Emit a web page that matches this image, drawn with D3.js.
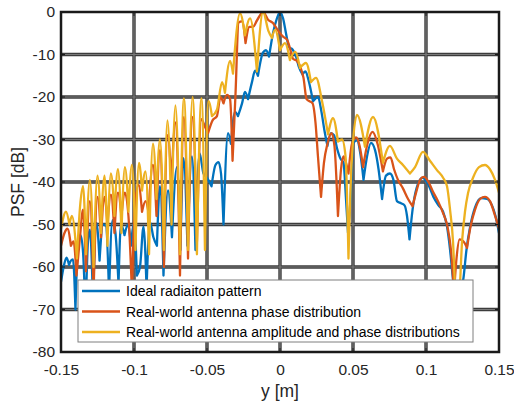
<!DOCTYPE html>
<html>
<head>
<meta charset="utf-8">
<script src="https://cdn.jsdelivr.net/npm/d3@7"></script>
<style>
html, body { margin: 0; padding: 0; background: #fff; }
svg { display: block; font-family: "Liberation Sans", Arial, Helvetica, sans-serif; }
</style>
</head>
<body>
<svg id="chart" width="514" height="407"></svg>
<script>
// PSF cuts: [y (m), level (dB)]
const idealPattern = [
  [-0.1500,-63.5],[-0.1479,-59.5],[-0.1462,-57.8],[-0.1445,-59.5],[-0.1432,-58.5],[-0.1418,-58.2],
  [-0.1401,-70],[-0.1384,-55],[-0.1366,-52.5],[-0.1349,-56.5],[-0.1332,-72],[-0.1315,-54],
  [-0.1302,-51.2],[-0.1281,-68],[-0.1257,-49.6],[-0.1236,-58.5],[-0.1212,-50],[-0.1192,-50.3],
  [-0.1171,-66],[-0.1147,-49],[-0.1127,-52],[-0.1106,-64],[-0.1089,-50],[-0.1065,-52.5],
  [-0.1041,-50],[-0.1021,-55],[-0.1000,-49.8],[-0.0980,-62],[-0.0959,-60],[-0.0935,-50.5],
  [-0.0914,-65],[-0.0890,-49.5],[-0.0867,-53],[-0.0843,-55],[-0.0822,-41],[-0.0798,-62],
  [-0.0767,-42],[-0.0740,-53],[-0.0706,-36.5],[-0.0682,-56],[-0.0661,-34.4],[-0.0634,-55],
  [-0.0603,-34],[-0.0579,-56],[-0.0551,-33.2],[-0.0524,-38],[-0.0500,-39],[-0.0469,-41],
  [-0.0442,-36],[-0.0421,-35.3],[-0.0404,-38],[-0.0387,-50],[-0.0356,-28.5],[-0.0336,-31],
  [-0.0308,-23.5],[-0.0288,-24.5],[-0.0260,-21.5],[-0.0240,-18.8],[-0.0219,-20.5],[-0.0192,-16.5],
  [-0.0171,-13.8],[-0.0151,-15],[-0.0116,-9.5],[-0.0096,-9],[-0.0075,-10.5],[-0.0048,-5],
  [-0.0021,-1.5],[0.0000,0],[0.0021,-1.5],[0.0041,-5],[0.0062,-8.3],[0.0086,-8.8],
  [0.0110,-10.5],[0.0130,-13],[0.0154,-14.7],[0.0175,-14],[0.0195,-16],[0.0226,-21],
  [0.0260,-20],[0.0284,-23.5],[0.0305,-28],[0.0325,-31.5],[0.0349,-28.5],[0.0370,-29],
  [0.0390,-32],[0.0414,-34.5],[0.0435,-35.5],[0.0452,-44],[0.0466,-52],[0.0483,-44],
  [0.0503,-30.8],[0.0527,-30.2],[0.0551,-33.5],[0.0572,-39.5],[0.0596,-34],[0.0623,-30.8],
  [0.0651,-32.5],[0.0675,-37],[0.0699,-44],[0.0726,-38.5],[0.0753,-38],[0.0777,-39.5],
  [0.0801,-44.5],[0.0829,-45],[0.0853,-45.5],[0.0870,-48],[0.0887,-53.5],[0.0908,-46.5],
  [0.0935,-41.5],[0.0976,-39],[0.1014,-40.5],[0.1051,-43.5],[0.1086,-45.5],[0.1117,-47],
  [0.1144,-50.5],[0.1165,-56],[0.1185,-63],[0.1209,-70],[0.1233,-67],[0.1257,-62.5],
  [0.1277,-56],[0.1302,-50.6],[0.1336,-46],[0.1377,-43.8],[0.1418,-44],[0.1452,-45.5],
  [0.1476,-48],[0.1500,-52]
];

const phaseError = [
  [-0.1500,-55],[-0.1476,-52],[-0.1456,-51],[-0.1432,-55],[-0.1414,-54],[-0.1394,-62],
  [-0.1370,-53],[-0.1349,-46.5],[-0.1329,-61],[-0.1302,-44.5],[-0.1277,-66],[-0.1250,-43.5],
  [-0.1226,-53],[-0.1202,-43.5],[-0.1182,-50],[-0.1158,-43],[-0.1134,-52],[-0.1110,-42.5],
  [-0.1086,-48],[-0.1062,-42.5],[-0.1038,-48],[-0.1014,-66],[-0.0993,-45],[-0.0969,-40.7],
  [-0.0945,-47],[-0.0921,-44.5],[-0.0901,-47],[-0.0870,-36],[-0.0846,-48],[-0.0822,-32.5],
  [-0.0795,-60],[-0.0771,-29],[-0.0743,-40],[-0.0716,-26],[-0.0685,-62],[-0.0658,-24.7],
  [-0.0630,-58],[-0.0599,-24.7],[-0.0569,-54],[-0.0538,-25.2],[-0.0514,-27],[-0.0493,-28.5],
  [-0.0462,-25.5],[-0.0432,-24.5],[-0.0408,-20],[-0.0387,-21.5],
  [-0.0363,-19.5],[-0.0342,-20.5],[-0.0325,-35],[-0.0305,-19.5],[-0.0284,-2.5],[-0.0260,-2.2],
  [-0.0236,-7.3],[-0.0209,-3.5],[-0.0185,-3.5],[-0.0158,-2],[-0.0116,0],[-0.0082,-1.8],
  [-0.0048,-2.6],[-0.0017,-4.2],[0.0021,-5.8],[0.0048,-6.5],[0.0068,-8.5],[0.0089,-11],
  [0.0116,-11.5],[0.0140,-13],[0.0161,-15.5],[0.0182,-20.5],[0.0202,-21],[0.0223,-21.5],
  [0.0243,-26],[0.0260,-34],[0.0281,-43.5],[0.0301,-35.5],[0.0325,-31],[0.0353,-28.5],
  [0.0373,-31.5],[0.0397,-48],[0.0418,-37],[0.0435,-34],[0.0452,-35.5],[0.0469,-38],
  [0.0493,-31],[0.0521,-29.5],[0.0545,-31.5],[0.0569,-36.5],[0.0599,-31],[0.0634,-28.2],
  [0.0668,-31],[0.0705,-37.5],[0.0733,-34.5],[0.0757,-34.2],[0.0781,-37],[0.0808,-39.5],
  [0.0842,-41.5],[0.0877,-44],[0.0908,-45.7],[0.0932,-42.5],[0.0959,-39.5],[0.0986,-38.8],
  [0.1017,-40],[0.1048,-42.3],[0.1082,-44.5],[0.1117,-47.3],[0.1147,-50.5],[0.1171,-56],
  [0.1192,-66],[0.1209,-58],[0.1230,-53.5],[0.1257,-54],[0.1281,-55.5],[0.1305,-50.5],
  [0.1336,-46.5],[0.1370,-44],[0.1404,-43.5],[0.1438,-44.5],[0.1469,-47.5],[0.1500,-51]
];

const amplitudePhaseError = [
  [-0.1500,-51],[-0.1466,-47],[-0.1442,-50],[-0.1425,-48],[-0.1391,-58],[-0.1370,-46],
  [-0.1349,-41],[-0.1329,-57],[-0.1302,-39.5],[-0.1277,-60],[-0.1250,-38.5],[-0.1226,-52],
  [-0.1202,-38.5],[-0.1182,-55],[-0.1158,-38],[-0.1134,-48],[-0.1110,-37],[-0.1086,-52],
  [-0.1062,-36.5],[-0.1038,-47],[-0.1014,-36],[-0.0990,-56],[-0.0966,-35.5],[-0.0945,-42],
  [-0.0921,-37.5],[-0.0897,-57],[-0.0870,-31],[-0.0846,-44],[-0.0822,-30],[-0.0795,-56],
  [-0.0771,-25.5],[-0.0743,-50],[-0.0716,-22],[-0.0685,-57],[-0.0658,-20.3],[-0.0630,-56],
  [-0.0599,-20],[-0.0569,-57],[-0.0538,-20.3],[-0.0514,-56],[-0.0490,-21],[-0.0466,-24.5],
  [-0.0432,-23],[-0.0397,-16.5],[-0.0377,-19],[-0.0342,-11.5],
  [-0.0322,-14.5],[-0.0274,-0.3],[-0.0240,-5.5],[-0.0205,-1.5],[-0.0158,-14],[-0.0116,0],
  [-0.0079,-4.5],[-0.0055,-6.1],[-0.0034,-4.2],[0.0000,-9],[0.0034,-7.3],[0.0068,-11.3],
  [0.0103,-9.4],[0.0137,-13.2],[0.0178,-12],[0.0212,-16.5],[0.0247,-15.5],[0.0288,-21],
  [0.0329,-28.8],[0.0363,-25],[0.0397,-30.5],[0.0425,-30],[0.0449,-34],[0.0469,-58],
  [0.0490,-36],[0.0527,-24.2],[0.0582,-31.7],[0.0637,-24.7],[0.0705,-35.5],[0.0753,-31.5],
  [0.0801,-34.5],[0.0842,-36],[0.0890,-38],[0.0925,-36.5],[0.0979,-32.9],[0.1027,-35],
  [0.1075,-37.2],[0.1117,-39],[0.1144,-41],[0.1165,-46.6],[0.1185,-54],[0.1202,-68],
  [0.1226,-67],[0.1247,-54],[0.1267,-47],[0.1288,-42.6],[0.1322,-39],[0.1363,-36.5],
  [0.1404,-36],[0.1438,-37],[0.1473,-39.5],[0.1500,-42.5]
];

const seriesNames = [
  "Ideal radiaiton pattern",
  "Real-world antenna phase distribution",
  "Real-world antenna amplitude and phase distributions"
];
const seriesColors = ["#0072BD", "#D95319", "#EDB120"];

const xTicks = [-0.15, -0.1, -0.05, 0, 0.05, 0.1, 0.15];
const xTickLabels = ["-0.15", "-0.1", "-0.05", "0", "0.05", "0.1", "0.15"];
const yTicks = [-80, -70, -60, -50, -40, -30, -20, -10, 0];
const yTickLabels = ["-80", "-70", "-60", "-50", "-40", "-30", "-20", "-10", "0"];

const xLabel = "y [m]";
const yLabel = "PSF [dB]";

// ---- layout ----
const plot = { left: 61, right: 499, top: 12, bottom: 352 };
const textColor = "#262626";

const svg = d3.select("#chart");

const x = d3.scaleLinear().domain([-0.15, 0.15]).range([plot.left, plot.right]);
const y = d3.scaleLinear().domain([-80, 0]).range([plot.bottom, plot.top]);

// heavy grid: dark outer stroke with a lighter core
const grid = svg.append("g").attr("class", "grid");
const gridLines = [
  ...xTicks.slice(1, -1).map(t => ({ x1: x(t), x2: x(t), y1: plot.top, y2: plot.bottom })),
  ...yTicks.slice(1, -1).map(t => ({ x1: plot.left, x2: plot.right, y1: y(t), y2: y(t) }))
];
[["#3c3c3c", 3.4], ["#7a7a7a", 1.2]].forEach(([c, w]) => {
  grid.append("g").selectAll("line").data(gridLines).join("line")
    .attr("x1", d => d.x1).attr("x2", d => d.x2)
    .attr("y1", d => d.y1).attr("y2", d => d.y2)
    .attr("stroke", c).attr("stroke-width", w);
});

// clip for the traces
svg.append("defs").append("clipPath").attr("id", "plotClip")
  .append("rect")
  .attr("x", plot.left).attr("y", plot.top)
  .attr("width", plot.right - plot.left).attr("height", plot.bottom - plot.top);

const line = d3.line()
  .x(d => x(d[0]))
  .y(d => y(d[1]))
  .curve(d3.curveMonotoneX);

// A dB pattern has rounded lobes and sharp nulls: split each trace at its
// local minima so the monotone spline keeps a cusp there.
function lobes(data) {
  const segs = [];
  let start = 0;
  for (let i = 1; i < data.length - 1; i++) {
    if (data[i][1] < data[i - 1][1] && data[i][1] < data[i + 1][1]) {
      segs.push(data.slice(start, i + 1));
      start = i;
    }
  }
  segs.push(data.slice(start));
  return segs;
}

const traces = [idealPattern, phaseError, amplitudePhaseError];
svg.append("g").attr("clip-path", "url(#plotClip)")
  .selectAll("path").data(traces).join("path")
  .attr("d", d => lobes(d).map(s => line(s)).join(""))
  .attr("fill", "none")
  .attr("stroke", (d, i) => seriesColors[i])
  .attr("stroke-width", 2.3)
  .attr("stroke-linejoin", "round")
  .attr("stroke-linecap", "round");

// axes
const xAxis = d3.axisBottom(x).tickValues(xTicks)
  .tickFormat((d, i) => xTickLabels[i]).tickSize(0).tickPadding(12);
const yAxis = d3.axisLeft(y).tickValues(yTicks)
  .tickFormat((d, i) => yTickLabels[i]).tickSize(0).tickPadding(6);

const gx = svg.append("g").attr("transform", `translate(0,${plot.bottom})`).call(xAxis);
const gy = svg.append("g").attr("transform", `translate(${plot.left},0)`).call(yAxis);
[gx, gy].forEach(g => {
  g.select(".domain").remove();
  g.selectAll("text").attr("font-size", 15.5).attr("fill", textColor)
    .attr("font-family", "'Liberation Sans', Arial, sans-serif");
});

// inward tick marks on all four sides
const tickLen = 4;
const ticks = svg.append("g").attr("stroke", "#1a1a1a").attr("stroke-width", 1);
xTicks.forEach(t => {
  ticks.append("line").attr("x1", x(t)).attr("x2", x(t)).attr("y1", plot.bottom).attr("y2", plot.bottom - tickLen);
  ticks.append("line").attr("x1", x(t)).attr("x2", x(t)).attr("y1", plot.top).attr("y2", plot.top + tickLen);
});
yTicks.forEach(t => {
  ticks.append("line").attr("y1", y(t)).attr("y2", y(t)).attr("x1", plot.left).attr("x2", plot.left + tickLen);
  ticks.append("line").attr("y1", y(t)).attr("y2", y(t)).attr("x1", plot.right).attr("x2", plot.right - tickLen);
});

// box
svg.append("rect")
  .attr("x", plot.left).attr("y", plot.top)
  .attr("width", plot.right - plot.left).attr("height", plot.bottom - plot.top)
  .attr("fill", "none").attr("stroke", "#1a1a1a").attr("stroke-width", 2.5);

// axis labels
svg.append("text")
  .attr("x", (plot.left + plot.right) / 2).attr("y", 397)
  .attr("text-anchor", "middle").attr("font-size", 17.5).attr("fill", textColor)
  .text(xLabel);
svg.append("text")
  .attr("transform", `translate(24,${(plot.top + plot.bottom) / 2}) rotate(-90)`)
  .attr("text-anchor", "middle").attr("font-size", 17.5).attr("fill", textColor)
  .text(yLabel);

// legend
const legend = svg.append("g").attr("transform", "translate(78,280)");
legend.append("rect")
  .attr("width", 395).attr("height", 62)
  .attr("fill", "#fff").attr("stroke", "#7f7f7f").attr("stroke-width", 1);
const rows = legend.selectAll("g.row").data(seriesNames).join("g")
  .attr("transform", (d, i) => `translate(0,${11 + i * 20.5})`);
rows.append("line")
  .attr("x1", 4).attr("x2", 42).attr("y1", 0).attr("y2", 0)
  .attr("stroke", (d, i) => seriesColors[i]).attr("stroke-width", 2.5);
rows.append("text")
  .attr("x", 48).attr("y", 5)
  .attr("font-size", 14).attr("fill", "#000")
  .text(d => d);
</script>
</body>
</html>
